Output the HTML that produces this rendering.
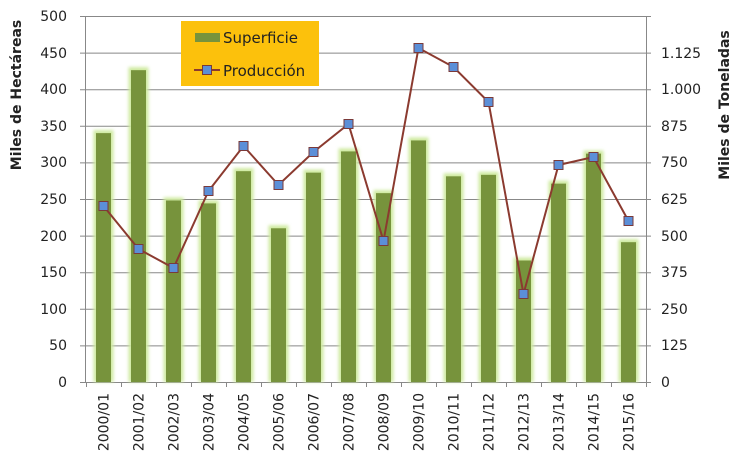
<!DOCTYPE html>
<html><head><meta charset="utf-8"><style>
body{margin:0;background:#fff}
svg text{font-family:"DejaVu Sans","Liberation Sans",sans-serif;fill:#222}
</style></head><body>
<svg width="733" height="471" viewBox="0 0 733 471" xmlns="http://www.w3.org/2000/svg">
<defs><filter id="g" x="-50%" y="-10%" width="200%" height="120%"><feGaussianBlur stdDeviation="1.5"/></filter></defs>
<g stroke="#888" stroke-width="1">
<line x1="80" y1="16.5" x2="651" y2="16.5"/>
<line x1="80" y1="53.1" x2="651" y2="53.1"/>
<line x1="80" y1="89.7" x2="651" y2="89.7"/>
<line x1="80" y1="126.3" x2="651" y2="126.3"/>
<line x1="80" y1="162.9" x2="651" y2="162.9"/>
<line x1="80" y1="199.5" x2="651" y2="199.5"/>
<line x1="80" y1="236.1" x2="651" y2="236.1"/>
<line x1="80" y1="272.7" x2="651" y2="272.7"/>
<line x1="80" y1="309.3" x2="651" y2="309.3"/>
<line x1="80" y1="345.9" x2="651" y2="345.9"/>
<line x1="80" y1="382.5" x2="651" y2="382.5"/>
</g>
<g id="bars"></g>
<g stroke="#888"><line x1="85.5" y1="16" x2="85.5" y2="382"/><line x1="646.5" y1="16" x2="646.5" y2="382"/></g>
<g id="ticks" stroke="#888"></g>
<g font-size="14" text-anchor="end">
<text x="67" y="21">500</text><text x="67" y="58">450</text><text x="67" y="94">400</text><text x="67" y="131">350</text><text x="67" y="167">300</text><text x="67" y="204">250</text><text x="67" y="241">200</text><text x="67" y="277">150</text><text x="67" y="314">100</text><text x="67" y="350">50</text><text x="67" y="387">0</text>
</g>
<g font-size="14" text-anchor="start">
<text x="661" y="58">1.125</text><text x="661" y="94">1.000</text><text x="661" y="131">875</text><text x="661" y="167">750</text><text x="661" y="204">625</text><text x="661" y="241">500</text><text x="661" y="277">375</text><text x="661" y="314">250</text><text x="661" y="350">125</text><text x="661" y="387">0</text>
</g>
<text transform="translate(21,95) rotate(-90)" text-anchor="middle" font-size="14" font-weight="bold">Miles de Hectáreas</text>
<text transform="translate(729,105) rotate(-90)" text-anchor="middle" font-size="14" font-weight="bold">Miles de Toneladas</text>
<g id="xl" font-size="14"></g>
<polyline fill="none" stroke="#8b3a2f" stroke-width="2" points="103.5,206 138.5,249 173.5,268 208.5,191 243.5,146 278.5,185 313.5,152 348.5,124 383.5,241 418.5,48 453.5,67 488.5,102 523.5,294 558.5,165 593.5,157 628.5,221"/>
<g id="mk" fill="#5b8fd8" stroke="#7a3a3a" stroke-width="1"></g>
<rect x="181" y="21" width="138" height="65" fill="#fcc10c"/>
<rect x="195" y="33" width="25" height="9" fill="#77933c"/>
<text x="223" y="43" font-size="15">Superficie</text>
<line x1="194" y1="70" x2="220" y2="70" stroke="#8b3a2f" stroke-width="2"/>
<rect x="202.5" y="65.5" width="9" height="9" fill="#5b8fd8" stroke="#7a3a3a"/>
<text x="223" y="76" font-size="15">Producción</text>
</svg>
<script>
(function(){
var v=[340,426,248,244,288,210,286,315,258,330,281,283,166,271,312,191];
var p=[206,249,268,191,146,185,152,124,241,48,67,102,294,165,157,221];
var lab=["2000/01","2001/02","2002/03","2003/04","2004/05","2005/06","2006/07","2007/08","2008/09","2009/10","2010/11","2011/12","2012/13","2013/14","2014/15","2015/16"];
var b="",m="",t="",x="";
for(var i=0;i<16;i++){var c=103.5+35*i,ty=382-v[i]*0.732;
b+='<rect x="'+(c-10)+'" y="'+(ty-3)+'" width="20" height="'+(382-ty+3)+'" fill="#cfeaa0" filter="url(#g)"/>';
b+='<rect x="'+(c-7.5)+'" y="'+ty+'" width="15" height="'+(382-ty)+'" fill="#77933c"/>';
m+='<rect x="'+(c-4.5)+'" y="'+(p[i]-4.5)+'" width="9" height="9"/>';
var tx=86+35*i;t+='<line x1="'+(tx+.5)+'" y1="382" x2="'+(tx+.5)+'" y2="387"/>';
x+='<text transform="translate('+(c+5)+',393) rotate(-90)" text-anchor="end">'+lab[i]+'</text>';}
t+='<line x1="646.5" y1="382" x2="646.5" y2="387"/>';
document.getElementById("bars").innerHTML=b;document.getElementById("mk").innerHTML=m;
document.getElementById("ticks").innerHTML=t;document.getElementById("xl").innerHTML=x;
})();
</script>
</body></html>
